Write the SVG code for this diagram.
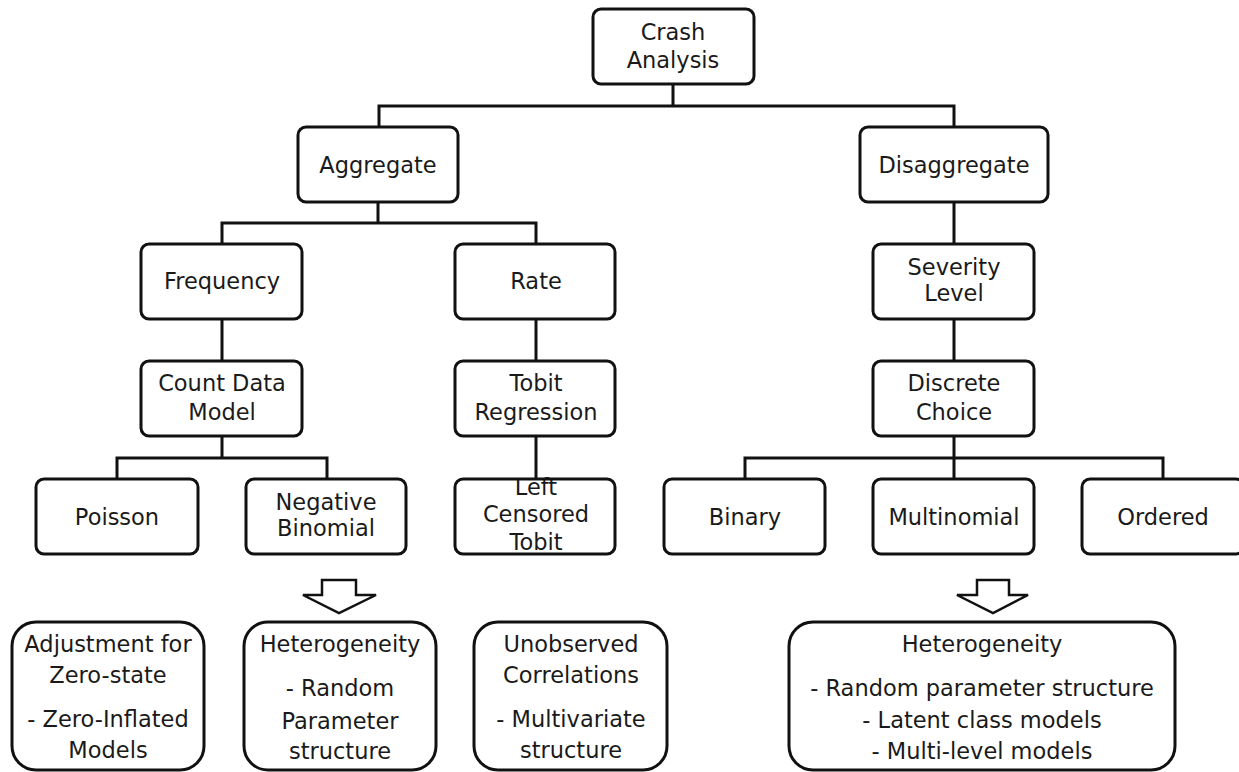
<svg xmlns="http://www.w3.org/2000/svg" width="1239" height="772" viewBox="0 0 1239 772">
<style>
.b{fill:#fff;stroke:#111;stroke-width:3}
.t{font-family:"DejaVu Sans",sans-serif;font-size:22.5px;fill:#1a1a1a;text-anchor:middle}
.c{fill:none;stroke:#111;stroke-width:3}
.a{fill:#fff;stroke:#111;stroke-width:2.5;stroke-linejoin:miter}
</style>
<rect width="1239" height="772" fill="#fff"/>
<g id="connectors">
<path class="c" d="M673 84V106M379 127V106H954V127"/>
<path class="c" d="M378 202V223M222 244V223H536V244"/>
<path class="c" d="M954 202V244M954 319V361"/>
<path class="c" d="M222 319V361M536 319V361"/>
<path class="c" d="M222 436V458M117 479V458H327V479"/>
<path class="c" d="M536 436V479"/>
<path class="c" d="M954 436V479M745 479V458H1163V479"/>
</g>
<g id="n-crash"><rect class="b" x="593" y="9" width="161" height="75" rx="8"/><text class="t" x="673" y="40">Crash</text><text class="t" x="673" y="68">Analysis</text></g>
<g id="n-aggregate"><rect class="b" x="298" y="127" width="160" height="75" rx="8"/><text class="t" x="378" y="173">Aggregate</text></g>
<g id="n-disaggregate"><rect class="b" x="860" y="127" width="188" height="75" rx="8"/><text class="t" x="954" y="173">Disaggregate</text></g>
<g id="n-frequency"><rect class="b" x="141" y="244" width="161" height="75" rx="8"/><text class="t" x="222" y="289">Frequency</text></g>
<g id="n-rate"><rect class="b" x="455" y="244" width="160" height="75" rx="8"/><text class="t" x="536" y="289">Rate</text></g>
<g id="n-severity"><rect class="b" x="873" y="244" width="161" height="75" rx="8"/><text class="t" x="954" y="275">Severity</text><text class="t" x="954" y="301">Level</text></g>
<g id="n-count"><rect class="b" x="141" y="361" width="161" height="75" rx="8"/><text class="t" x="222" y="391">Count Data</text><text class="t" x="222" y="420">Model</text></g>
<g id="n-tobit"><rect class="b" x="455" y="361" width="160" height="75" rx="8"/><text class="t" x="536" y="391">Tobit</text><text class="t" x="536" y="420">Regression</text></g>
<g id="n-discrete"><rect class="b" x="873" y="361" width="161" height="75" rx="8"/><text class="t" x="954" y="391">Discrete</text><text class="t" x="954" y="420">Choice</text></g>
<g id="n-poisson"><rect class="b" x="36" y="479" width="162" height="75" rx="8"/><text class="t" x="117" y="525">Poisson</text></g>
<g id="n-negbin"><rect class="b" x="246" y="479" width="160" height="75" rx="8"/><text class="t" x="326" y="510">Negative</text><text class="t" x="326" y="536">Binomial</text></g>
<g id="n-leftcens"><text class="t" x="536" y="495">Left</text><rect class="b" x="455" y="479" width="160" height="75" rx="8" fill="none" style="fill:none"/><text class="t" x="536" y="522">Censored</text><text class="t" x="536" y="550">Tobit</text></g>
<g id="n-binary"><rect class="b" x="664" y="479" width="161" height="75" rx="8"/><text class="t" x="745" y="525">Binary</text></g>
<g id="n-multinomial"><rect class="b" x="873" y="479" width="161" height="75" rx="8"/><text class="t" x="954" y="525">Multinomial</text></g>
<g id="n-ordered"><rect class="b" x="1082" y="479" width="162" height="75" rx="8"/><text class="t" x="1163" y="525">Ordered</text></g>
<g id="arrow-left"><path class="a" d="M322 580H356V595H376L339 613L303 595H322Z"/></g>
<g id="arrow-right"><path class="a" d="M977 580H1009V595H1028L993 613L957 595H977Z"/></g>
<g id="n-zero"><rect class="b" x="12" y="622" width="192" height="148" rx="24"/><text class="t" x="108" y="652">Adjustment for</text><text class="t" x="108" y="683">Zero-state</text><text class="t" x="108" y="727">- Zero-Inflated</text><text class="t" x="108" y="758">Models</text></g>
<g id="n-hetero1"><rect class="b" x="244" y="622" width="192" height="148" rx="24"/><text class="t" x="340" y="652">Heterogeneity</text><text class="t" x="340" y="696">- Random</text><text class="t" x="340" y="729">Parameter</text><text class="t" x="340" y="759">structure</text></g>
<g id="n-unobs"><rect class="b" x="474" y="622" width="193" height="148" rx="24"/><text class="t" x="571" y="652">Unobserved</text><text class="t" x="571" y="683">Correlations</text><text class="t" x="571" y="727">- Multivariate</text><text class="t" x="571" y="758">structure</text></g>
<g id="n-hetero2"><rect class="b" x="789" y="622" width="386" height="148" rx="24"/><text class="t" x="982" y="652">Heterogeneity</text><text class="t" x="982" y="696">- Random parameter structure</text><text class="t" x="982" y="728">- Latent class models</text><text class="t" x="982" y="759">- Multi-level models</text></g>
</svg>
